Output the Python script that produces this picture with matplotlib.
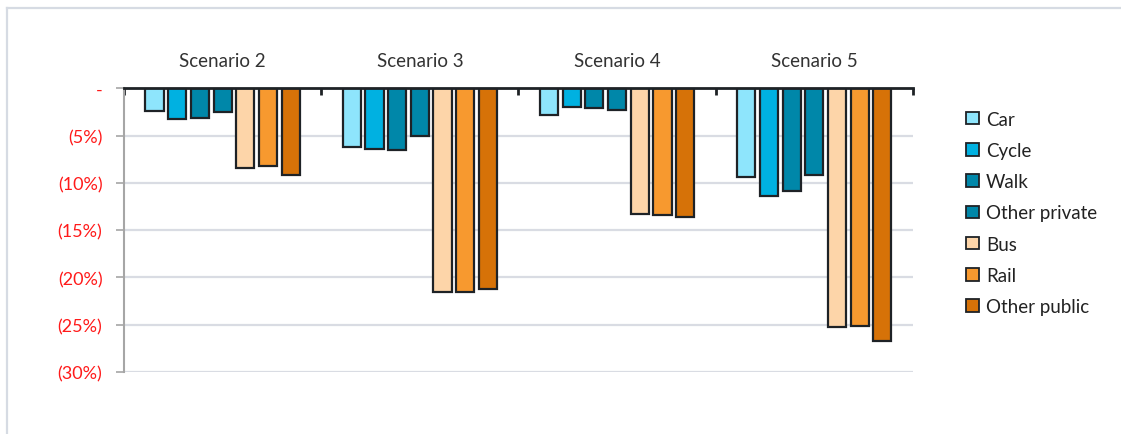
import matplotlib
matplotlib.use('Agg')
import matplotlib.pyplot as plt
import numpy as np
from matplotlib.lines import Line2D
from matplotlib.patches import Patch

plt.rcParams['font.family'] = ['Lato', 'DejaVu Sans']

# 各シナリオの交通手段別変化率(%)
scenarios = ['Scenario 2', 'Scenario 3', 'Scenario 4', 'Scenario 5']
modes = ['Car', 'Cycle', 'Walk', 'Other private', 'Bus', 'Rail', 'Other public']
car = [-2.4, -6.2, -2.8, -9.4]
cycle = [-3.25, -6.4, -1.95, -11.4]
walk = [-3.1, -6.5, -2.1, -10.85]
other_private = [-2.5, -5.0, -2.3, -9.2]
bus = [-8.4, -21.5, -13.3, -25.2]
rail = [-8.2, -21.5, -13.4, -25.1]
other_public = [-9.15, -21.2, -13.6, -26.7]
series = [car, cycle, walk, other_private, bus, rail, other_public]

colors = ['#8ee5fc', '#00b1e1', '#0087a9', '#0087a9',
          '#fdd5a9', '#f7992f', '#d67208']

yticks = [0, -5, -10, -15, -20, -25, -30]
ytick_labels = ['-', '(5%)', '(10%)', '(15%)', '(20%)', '(25%)', '(30%)']

fig = plt.figure(figsize=(11.21, 4.35), dpi=100)
ax = fig.add_axes([0.1106, 0.1425, 0.8144 - 0.1106, 0.7947 - 0.1425])

# 棒グラフの描画
pitch = 0.115
width = 0.092
centers = np.arange(len(scenarios)) + 0.5
for j, (vals, c) in enumerate(zip(series, colors)):
    ax.bar(centers + (j - 3) * pitch, vals, width=width, color=c,
           edgecolor='#1e2226', linewidth=1.6, label=modes[j], zorder=3)

ax.set_xlim(0, len(scenarios))
ax.set_ylim(-30, 0)

# x軸は上側に配置
ax.xaxis.tick_top()
ax.set_xticks(centers)
ax.set_xticklabels(scenarios, fontsize=13.5, color='#333333')
ax.set_xticks(np.arange(len(scenarios) + 1), minor=True)
ax.tick_params(axis='x', which='major', length=0, pad=14)
ax.tick_params(axis='x', which='minor', length=5, width=2,
               direction='in', color='#1e2226')

ax.set_yticks(yticks)
ax.set_yticklabels(ytick_labels, fontsize=13, color='#ff1a1a')
ax.tick_params(axis='y', length=5.5, width=1.2, color='#a6a6a6', pad=10)
ax.yaxis.grid(True, color='#d9dce3', linewidth=1.6, zorder=0)

for s in ['right', 'bottom']:
    ax.spines[s].set_visible(False)
ax.spines['top'].set_color('#1e2226')
ax.spines['top'].set_linewidth(2)
ax.spines['top'].set_zorder(4)
ax.spines['left'].set_color('#a6a6a6')
ax.spines['left'].set_linewidth(1.5)

# 凡例
handles = [Patch(facecolor=c, edgecolor='#1e2226', linewidth=1.3)
           for c in colors]
leg = fig.legend(handles, modes, loc='upper left',
                 bbox_to_anchor=(0.847, 0.782), frameon=False,
                 fontsize=13.5, handlelength=0.65, handleheight=0.65,
                 handletextpad=0.4, labelspacing=0.76)
for t in leg.get_texts():
    t.set_color('#222222')

# 外枠(上と左のみ)
fig.add_artist(Line2D([0.0065, 1.0], [1 - 9 / 435, 1 - 9 / 435],
                      color='#d6dbe3', linewidth=1.6))
fig.add_artist(Line2D([0.0065, 0.0065], [0.0, 1 - 9 / 435],
                      color='#d6dbe3', linewidth=1.6))

fig.savefig('out.png', dpi=100)
